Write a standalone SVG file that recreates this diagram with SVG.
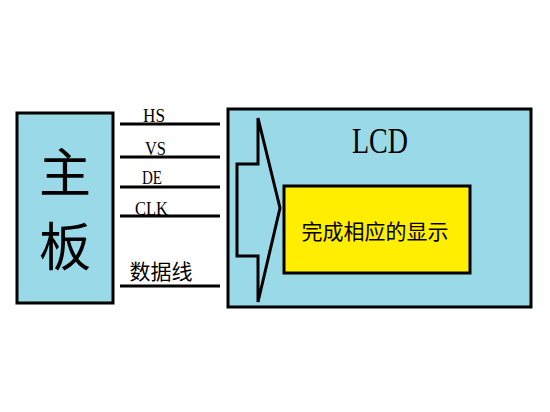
<svg xmlns="http://www.w3.org/2000/svg" width="550" height="412" viewBox="0 0 550 412">
<style>
.box{fill:#9ad9e8;stroke:#000;stroke-width:3}
.ln{stroke:#000;stroke-width:3;fill:none}
.sig{font-family:"Liberation Serif",serif;font-size:19px;fill:#000}
.cjk{font-family:"Noto Sans CJK SC",sans-serif;fill:#000}
</style>
<rect width="550" height="412" fill="#fff"/>
<g id="mainboard">
<rect class="box" x="17" y="113" width="96" height="190"/>
<text class="cjk" x="65" y="192" font-size="52" text-anchor="middle">主</text>
<text class="cjk" x="65" y="266" font-size="52" text-anchor="middle">板</text>
</g>
<g id="lcd">
<rect class="box" x="228" y="109" width="303" height="198"/>
<text x="352" y="153" font-family="Liberation Serif,serif" font-size="35" textLength="56" lengthAdjust="spacingAndGlyphs">LCD</text>
<path class="ln" stroke-linejoin="miter" d="M258,118 L280,208 L258,302 L258,256 L237,256 L237,164 L258,164 Z" fill="none"/>
</g>
<g id="display">
<rect x="284" y="186" width="186" height="87" fill="#ffee00" stroke="#000" stroke-width="3"/>
<text class="cjk" x="375" y="239" font-size="21" text-anchor="middle">完成相应的显示</text>
</g>
<g id="connectors">
<line class="ln" x1="120" y1="124" x2="220" y2="124"/>
<line class="ln" x1="120" y1="157" x2="220" y2="157"/>
<line class="ln" x1="120" y1="187" x2="220" y2="187"/>
<line class="ln" x1="120" y1="216" x2="220" y2="216"/>
<line class="ln" x1="120" y1="286" x2="220" y2="286"/>
<text class="sig" x="143" y="122" textLength="22" lengthAdjust="spacingAndGlyphs">HS</text>
<text class="sig" x="145" y="155" textLength="21" lengthAdjust="spacingAndGlyphs">VS</text>
<text class="sig" x="142" y="184" textLength="20" lengthAdjust="spacingAndGlyphs">DE</text>
<text class="sig" x="135" y="215" textLength="33" lengthAdjust="spacingAndGlyphs">CLK</text>
<text class="cjk" x="161" y="279" font-size="21" text-anchor="middle">数据线</text>
</g>
</svg>
